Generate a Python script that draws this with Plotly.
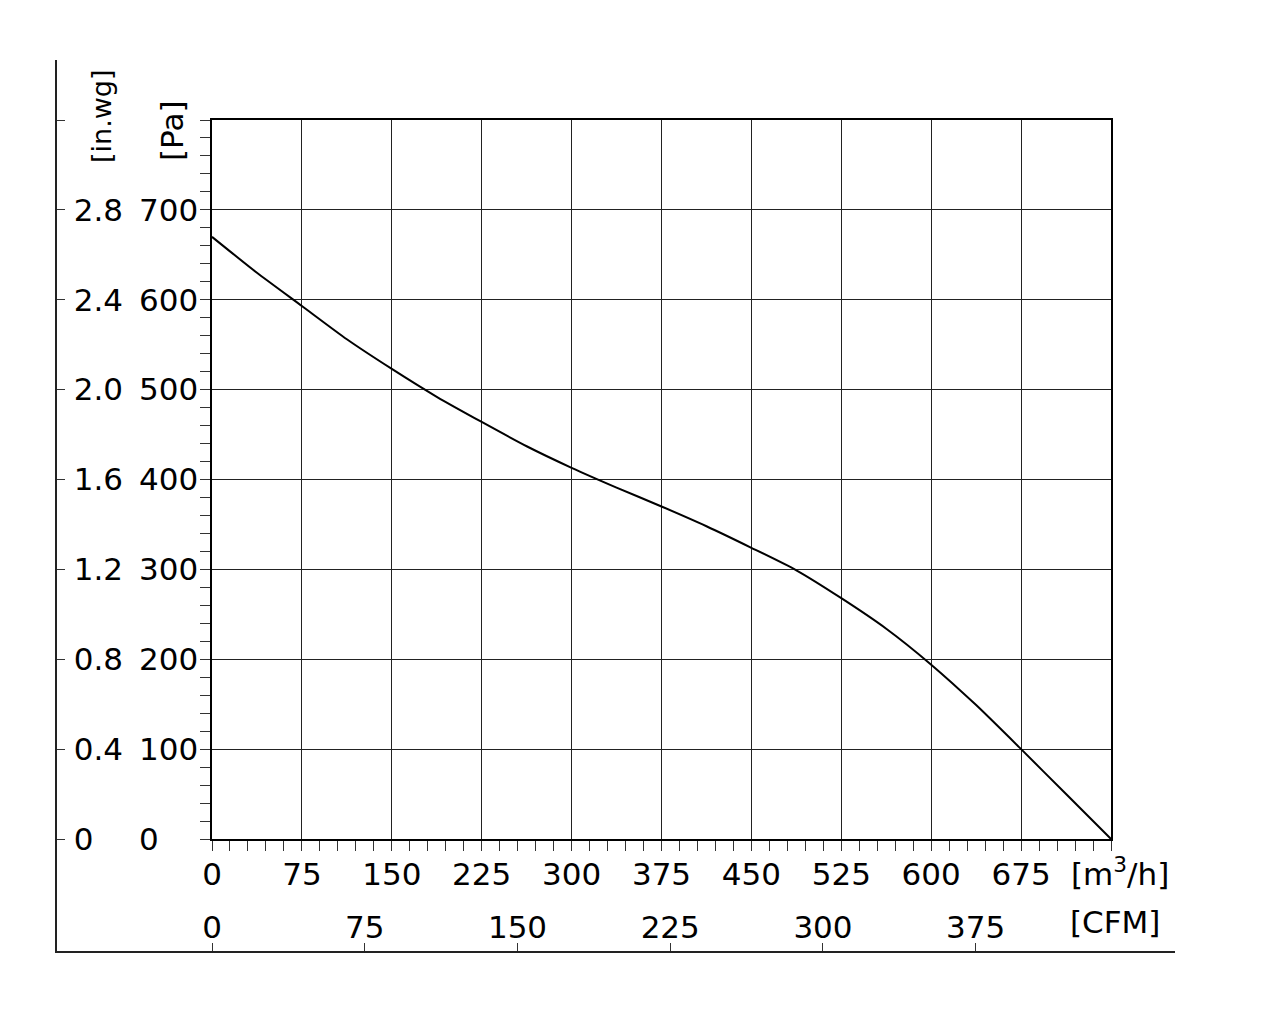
import plotly.graph_objects as go

# Data
flow_m3h = [0, 37.5, 75, 112.5, 150, 187.5, 225, 262.5, 300, 337.5, 375,
            412.5, 450, 487.5, 525, 562.5, 600, 637.5, 675, 712.5, 750]
pressure_pa = [670, 630, 593, 556, 523, 492, 464, 437, 413, 391, 370,
               348, 324, 299, 268, 234, 194, 149, 100, 50, 0]

flow_ticks = [0, 75, 150, 225, 300, 375, 450, 525, 600, 675]
pa_ticks = [0, 100, 200, 300, 400, 500, 600, 700]
inwg_labels = ["0", "0.4", "0.8", "1.2", "1.6", "2.0", "2.4", "2.8"]
cfm_ticks = [0, 75, 150, 225, 300, 375]

M3H_PER_CFM = 1.699

# page geometry (pixels, as seen in the browser window)
OFF = 8                                   # default body margin of the page
W, H = 1264 - 2 * OFF, 1018 - 2 * OFF
L, R, T, B = 57, 1175, 60, 951            # outer frame (in.wg / CFM axes)
px0, px1, py0, py1 = 212, 1111, 839, 120  # inner plot box
xmax, ymax = 750, 800

fw, fh = R - L, B - T
xdom = [(px0 - L) / fw, (px1 - L) / fw]
ydom = [(B - py0) / fh, (B - py1) / fh]

m3h_per_px = xmax / (px1 - px0)
cfm_range = [-(px0 - L) * m3h_per_px / M3H_PER_CFM,
             (R - px0) * m3h_per_px / M3H_PER_CFM]
pa_per_px = ymax / (py0 - py1)
pa_range = [-(B - py0) * pa_per_px, (py0 - T) * pa_per_px]

FONT = "DejaVu Sans"
fs = 31
tf = dict(family=FONT, size=fs, color="black")


def px(x):
    return (x - L) / fw


def py(y):
    return (B - y) / fh


fig = go.Figure()
fig.add_trace(go.Scatter(x=flow_m3h, y=pressure_pa, mode="lines",
                         line=dict(color="black", width=2, shape="spline", smoothing=0.6),
                         showlegend=False))
# dummy traces so the extra axes get drawn
fig.add_trace(go.Scatter(x=[None], y=[None], xaxis="x2", yaxis="y2",
                         showlegend=False, hoverinfo="skip"))
fig.add_trace(go.Scatter(x=[None], y=[None], xaxis="x2", yaxis="y3",
                         showlegend=False, hoverinfo="skip"))

fig.update_layout(
    width=W, height=H,
    margin=dict(l=L - OFF, r=W + OFF - R, t=T - OFF, b=H + OFF - B),
    paper_bgcolor="white", plot_bgcolor="rgba(0,0,0,0)",
    font=tf,
    xaxis=dict(domain=xdom, range=[0, xmax], anchor="y", tickfont=tf,
               tickvals=flow_ticks, ticks="outside", ticklen=10, tickwidth=1,
               tickcolor="#333", showgrid=True, gridcolor="#222", gridwidth=1,
               minor=dict(dtick=15, ticks="outside", ticklen=10, tickcolor="#333", showgrid=False),
               showline=True, linecolor="black", linewidth=2, mirror=True,
               zeroline=False, ticklabelstandoff=-3),
    yaxis=dict(domain=ydom, range=[0, ymax], anchor="x",
               tickvals=pa_ticks, ticks="outside", ticklen=10, showticklabels=False,
               tickwidth=1, tickcolor="#333", showgrid=True, gridcolor="#222", gridwidth=1,
               minor=dict(dtick=20, ticks="outside", ticklen=10, tickcolor="#333", showgrid=False),
               showline=True, linecolor="black", linewidth=2, mirror=True,
               zeroline=False),
    # Pa labels, left aligned like in the reference
    yaxis3=dict(domain=[0, 1], anchor="free", position=px(135), side="left",
                range=pa_range, tickvals=pa_ticks, tickfont=tf, ticks="",
                ticklabelposition="inside", showline=False, showgrid=False,
                zeroline=False),
    xaxis2=dict(domain=[0, 1], range=cfm_range, anchor="y2", side="bottom", tickfont=tf,
                tickvals=cfm_ticks, ticks="inside", ticklen=8, tickcolor="#333",
                ticklabelposition="inside", ticklabelstandoff=2,
                showgrid=False, zeroline=False,
                showline=True, linecolor="#222", linewidth=2),
    yaxis2=dict(domain=[0, 1], range=pa_range, anchor="x2", side="left", tickfont=tf,
                tickvals=pa_ticks, ticktext=inwg_labels, ticks="inside", ticklen=8,
                tickcolor="#333", ticklabelposition="inside", ticklabelstandoff=12,
                minor=dict(tickvals=[ymax], ticks="inside", ticklen=8, tickcolor="#333",
                           showgrid=False),
                showgrid=False, zeroline=False,
                showline=True, linecolor="#222", linewidth=2),
)

ann = dict(xref="paper", yref="paper", showarrow=False,
           xanchor="center", yanchor="middle")
fig.add_annotation(text="[m<sup>3</sup>/h]", x=px(1120), y=py(872), font=tf, **ann)
fig.add_annotation(text="[CFM]", x=px(1115), y=py(922), font=tf, **ann)
fig.add_annotation(text="[in.wg]", x=px(101), y=py(116), textangle=-90,
                   font=dict(family=FONT, size=27, color="black"), **ann)
fig.add_annotation(text="[Pa]", x=px(172), y=py(131), textangle=-90, font=tf, **ann)

fig.write_html("out.html")
